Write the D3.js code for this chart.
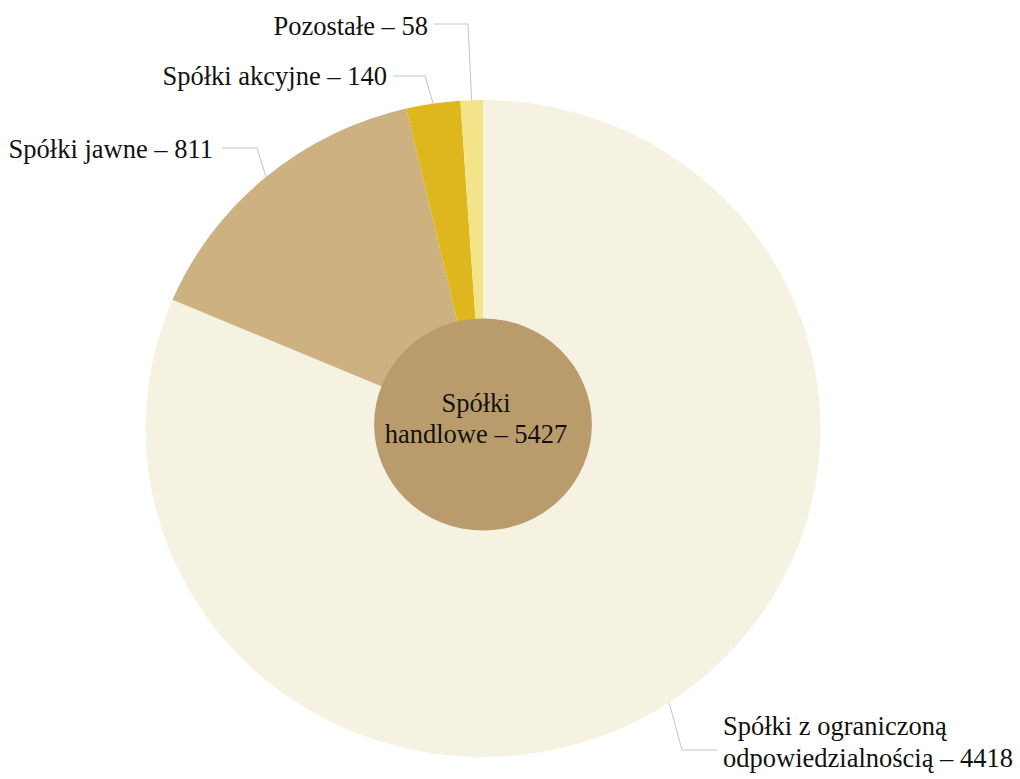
<!DOCTYPE html>
<html>
<head>
<meta charset="utf-8">
<script src="https://cdn.jsdelivr.net/npm/d3@7"></script>
<style>
  body { margin: 0; background: #fff; }
  text { font-family: "Liberation Serif", "Times New Roman", serif; font-size: 26.5px; fill: #111; }
</style>
</head>
<body>
<div id="chart"></div>
<script>
// data
const categories = ["Spółki z ograniczoną odpowiedzialnością", "Spółki jawne", "Spółki akcyjne", "Pozostałe"];
const values = [4418, 811, 140, 58];
const totalLabel = ["Spółki", "handlowe – 5427"];
const colors = ["#f6f2e2", "#cdb180", "#ddb71d", "#f3e389"];

const width = 1020, height = 779;
const cx = 483, cy = 428.5;
const ry = 328.5, sx = 337.5 / 328.5; // the original is stretched a bit sideways

const svg = d3.select('#chart').append('svg')
    .attr('width', width)
    .attr('height', height);

const pie = d3.pie().sort(null).value(d => d);
const arcs = pie(values);
const arc = d3.arc().innerRadius(0).outerRadius(ry);

const g = svg.append('g')
    .attr('transform', `translate(${cx},${cy}) scale(${sx},1)`);

g.selectAll('path')
    .data(arcs)
    .enter()
    .append('path')
    .attr('d', arc)
    .attr('fill', (d, i) => colors[i]);

// middle circle
svg.append('ellipse')
    .attr('cx', cx)
    .attr('cy', cy - 4)
    .attr('rx', 106 * sx)
    .attr('ry', 106)
    .attr('fill', '#ba9c6c');

svg.selectAll('text.total')
    .data(totalLabel)
    .enter()
    .append('text')
    .attr('class', 'total')
    .attr('x', 476)
    .attr('y', (d, i) => 412 + i * 31)
    .attr('text-anchor', 'middle')
    .text(d => d);

// leader lines + labels (knee / text spots by hand)
const labelLayout = [
    {knee: [682, 750], end: [717, 750], tx: 723, ty: 735, anchor: 'start',
        lines: ["Spółki z ograniczoną", "odpowiedzialnością – 4418"]},
    {knee: [257, 148], end: [222, 148], tx: 213, ty: 158, anchor: 'end',
        lines: ["Spółki jawne – 811"]},
    {knee: [425, 76], end: [393, 76], tx: 387, ty: 85, anchor: 'end',
        lines: ["Spółki akcyjne – 140"]},
    {knee: [468, 24], end: [434, 24], tx: 428, ty: 35, anchor: 'end',
        lines: ["Pozostałe – 58"]}
];

function edgePoint(d) {
    const a = (d.startAngle + d.endAngle) / 2;
    return [cx + Math.sin(a) * ry * sx, cy - Math.cos(a) * ry];
}

const line = d3.line();

svg.selectAll('path.leader')
    .data(arcs)
    .enter()
    .append('path')
    .attr('class', 'leader')
    .attr('d', (d, i) => line([edgePoint(d), labelLayout[i].knee, labelLayout[i].end]))
    .attr('fill', 'none')
    .attr('stroke', '#c4c4c4')
    .attr('stroke-width', 1);

arcs.forEach((d, i) => {
    const l = labelLayout[i];
    svg.append('text')
        .attr('x', l.tx)
        .attr('y', l.ty)
        .attr('text-anchor', l.anchor)
        .selectAll('tspan')
        .data(l.lines)
        .enter()
        .append('tspan')
        .attr('x', l.tx)
        .attr('dy', (t, j) => j === 0 ? 0 : 32)
        .text(t => t);
});
</script>
</body>
</html>
